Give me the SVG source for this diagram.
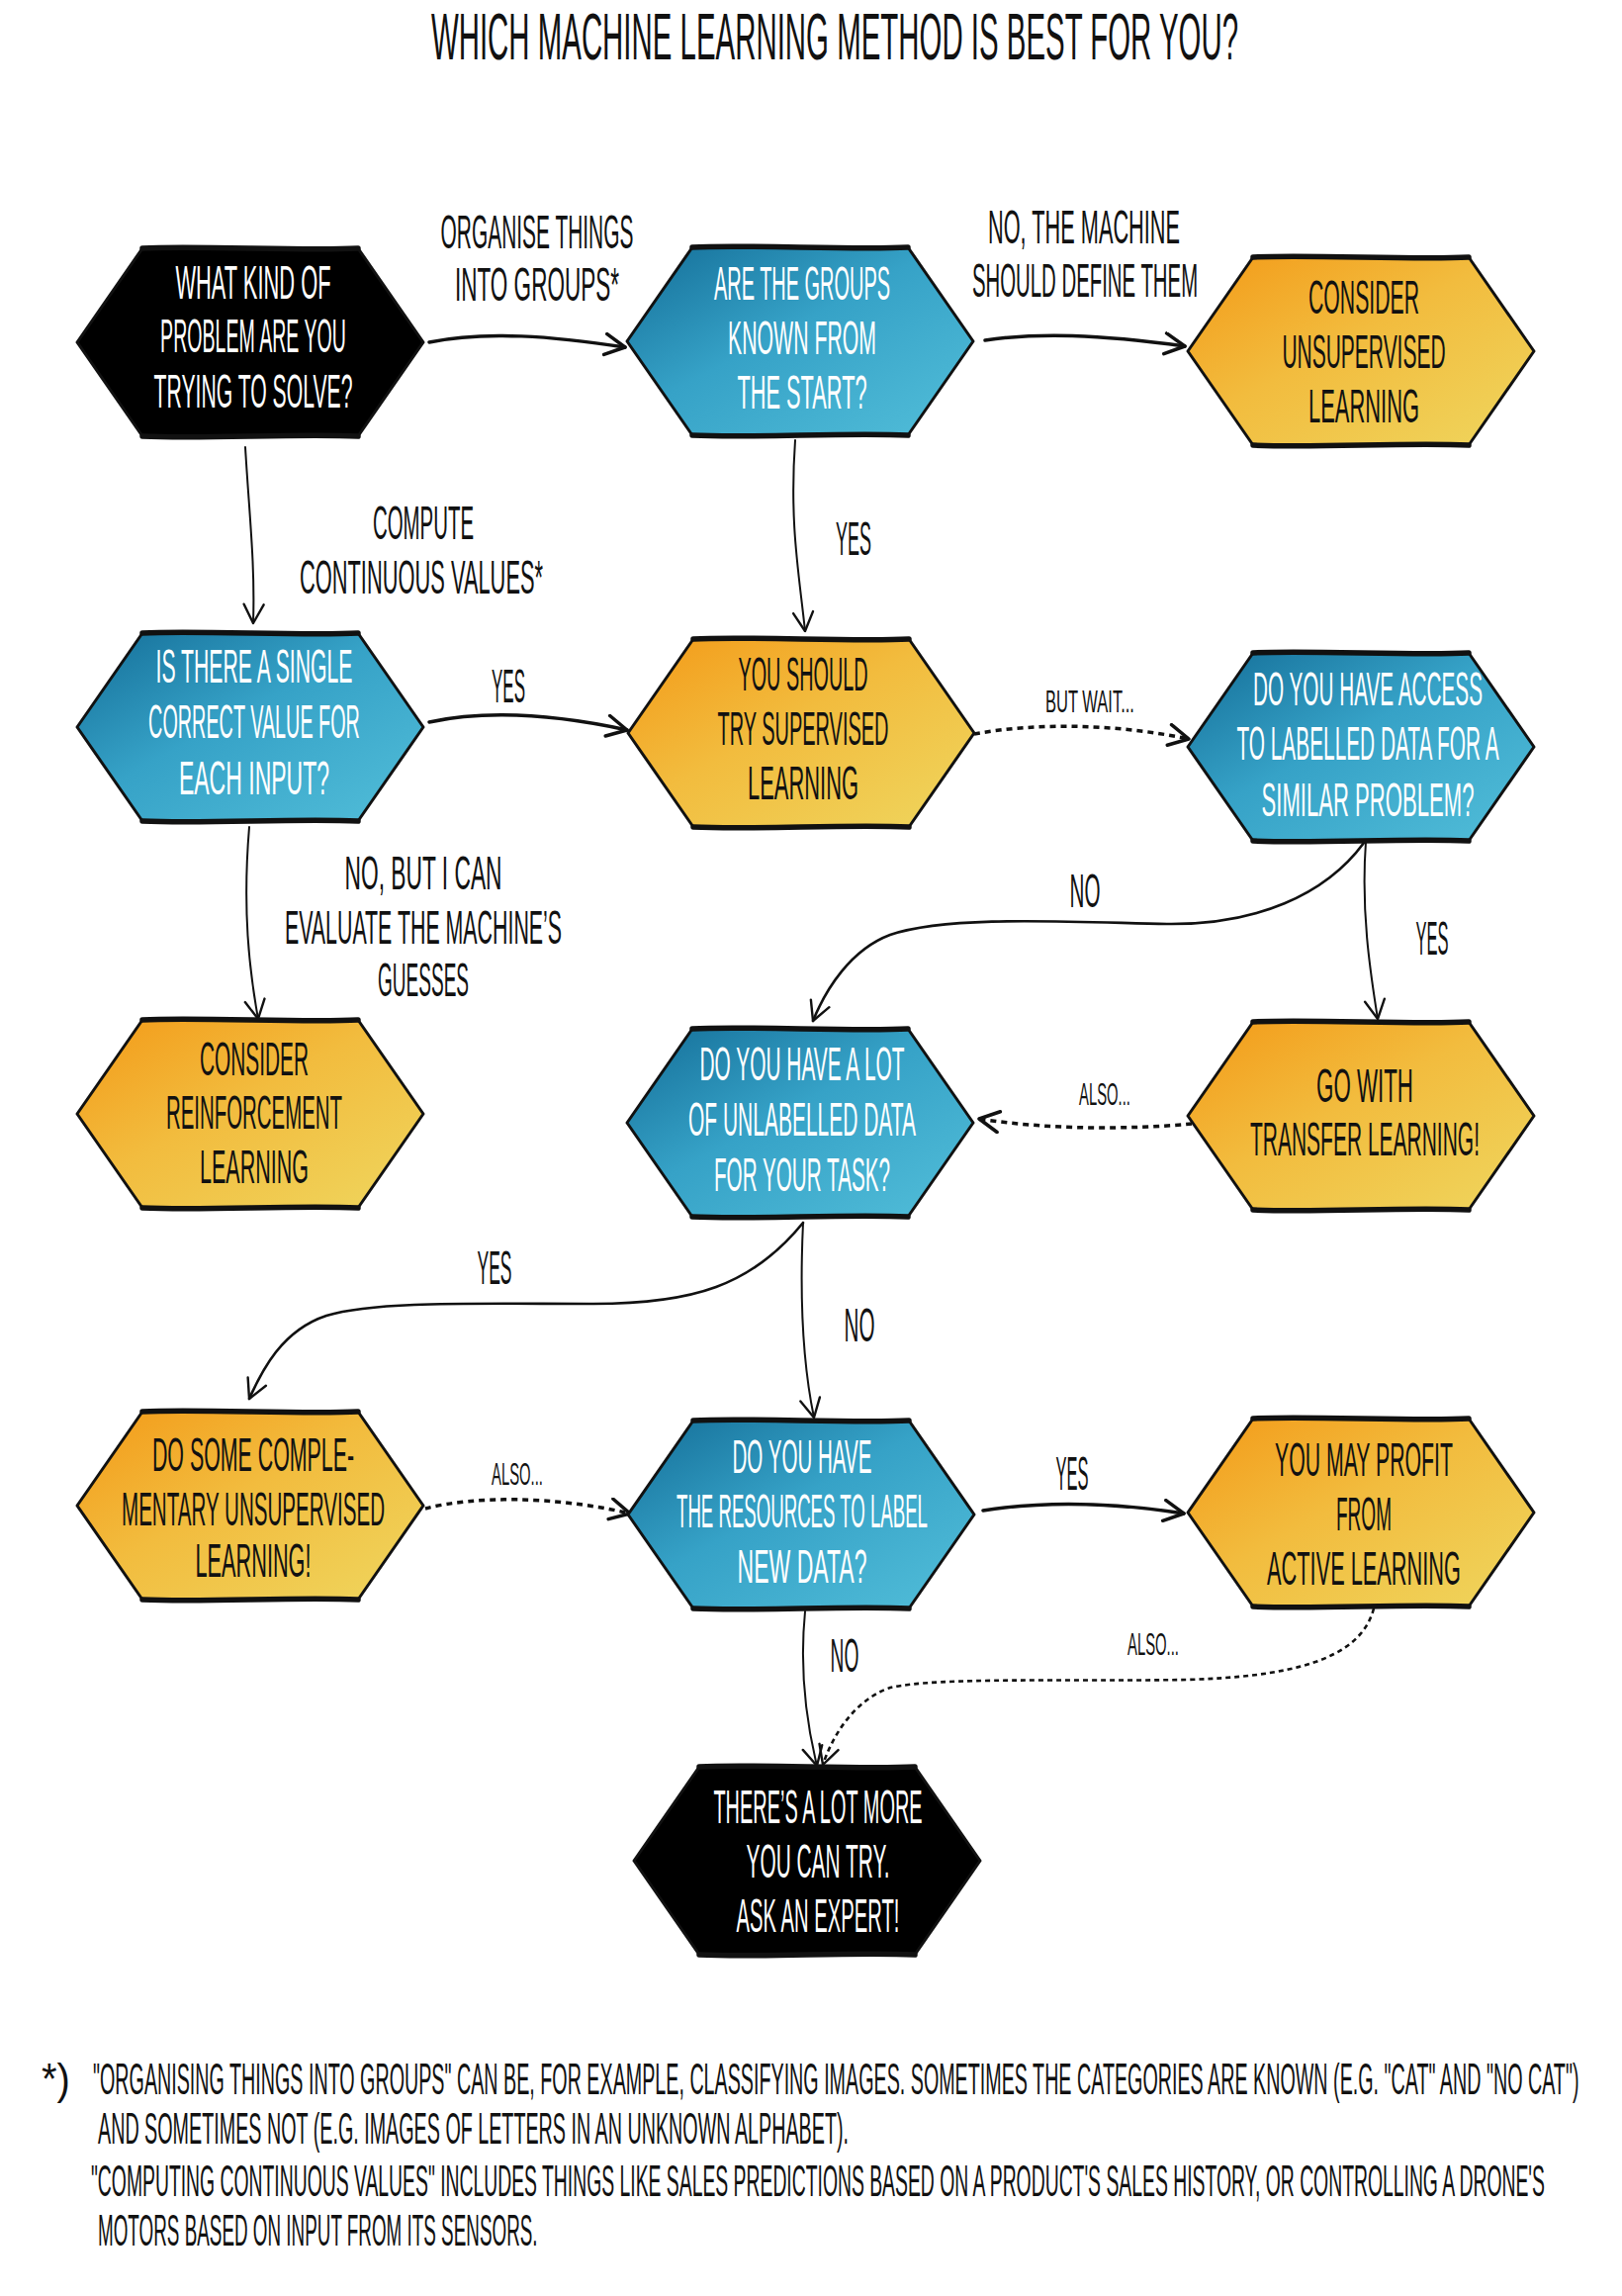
<svg xmlns="http://www.w3.org/2000/svg" xmlns:xlink="http://www.w3.org/1999/xlink" width="1640" height="2321" viewBox="0 0 1640 2321">
<defs>
<style>
.t{font-family:'Liberation Sans','DejaVu Sans',sans-serif;text-transform:uppercase;text-anchor:middle;fill:#111}
.n{font-size:48px}
.w{fill:#fff}
.s{font-size:32px}
.f{font-size:44px;text-anchor:start}
.hex polygon{stroke:#111;stroke-width:3;stroke-linejoin:round}
.hex path{fill:none;stroke:#111;stroke-width:5.5;stroke-linecap:round}
.c{fill:none;stroke:#111;stroke-linecap:round}
.thick{stroke-width:3.5;marker-end:url(#ah)}
.mid{stroke-width:2.6;marker-end:url(#ahThin)}
.thin{stroke-width:2;marker-end:url(#ahThin)}
.dot{stroke-width:3.5;stroke-dasharray:6 5;stroke-linecap:butt;marker-end:url(#ah)}
.dotf{stroke-width:2.6;stroke-dasharray:5 4;stroke-linecap:butt;marker-end:url(#ahThin)}
</style>
<linearGradient id="gBlue" x1="0" y1="0" x2="1" y2="1">
<stop offset="0" stop-color="#146e98"/>
<stop offset="0.45" stop-color="#36a2c7"/>
<stop offset="1" stop-color="#52bed9"/>
</linearGradient>
<linearGradient id="gOrange" x1="0" y1="0" x2="1" y2="1">
<stop offset="0" stop-color="#f39a18"/>
<stop offset="0.45" stop-color="#f2bc3e"/>
<stop offset="1" stop-color="#efd65e"/>
</linearGradient>
<g id="hex" class="hex">
<polygon points="0,95 66,0 284,0 350,95 284,190 66,190"/>
<path d="M66 0 C120 -3 230 3 284 0"/>
<path d="M66 190 C130 193 220 187 284 190"/>
</g>
<marker id="ah" markerUnits="userSpaceOnUse" viewBox="0 0 30 30" markerWidth="30" markerHeight="30" refX="23" refY="12" orient="auto">
<path d="M3,1.5 L23,12 L3,22.5" fill="none" stroke="#111" stroke-width="3.5" stroke-dasharray="none" stroke-linecap="round" stroke-linejoin="round"/>
</marker>
<marker id="ahThin" markerUnits="userSpaceOnUse" viewBox="0 0 30 30" markerWidth="30" markerHeight="30" refX="23" refY="12" orient="auto">
<path d="M4,2 L23,12 L4,22" fill="none" stroke="#111" stroke-width="2.4" stroke-dasharray="none" stroke-linecap="round" stroke-linejoin="round"/>
</marker>
</defs>
<rect width="1640" height="2321" fill="#fff"/>

<text id="title" class="t" font-size="66" transform="translate(844 60) scale(0.447 1)" textLength="1826" lengthAdjust="spacingAndGlyphs">Which Machine Learning Method is Best For you?</text>

<g id="connectors">
<path id="e1" class="c thick" d="M434 346 C490 334 560 340 632 351"/>
<path id="e2" class="c thick" d="M996 344 C1050 336 1110 338 1198 350"/>
<path id="e3" class="c thin" d="M248 452 C252 520 258 570 256 630"/>
<path id="e4" class="c thin" d="M804 445 C798 530 808 580 814 638"/>
<path id="e5" class="c thick" d="M434 730 C490 718 560 722 634 738"/>
<path id="e6" class="c dot" d="M985 742 C1050 730 1130 732 1202 747"/>
<path id="e7" class="c thin" d="M252 836 C245 920 252 980 261 1030"/>
<path id="e8" class="c mid" d="M1379 852 C1340 905 1270 935 1180 934 C1080 932 960 925 900 945 C860 960 835 1000 822 1032"/>
<path id="e9" class="c thin" d="M1381 851 C1376 920 1385 980 1393 1030"/>
<path id="e10" class="c dot" d="M1205 1136 C1140 1142 1060 1142 990 1131"/>
<path id="e11" class="c mid" d="M812 1236 C760 1300 700 1318 600 1318 C480 1318 380 1315 330 1330 C285 1345 265 1385 252 1414"/>
<path id="e12" class="c thin" d="M812 1236 C808 1320 812 1380 823 1433"/>
<path id="e13" class="c dot" d="M430 1525 C480 1512 560 1512 637 1530"/>
<path id="e14" class="c thick" d="M994 1527 C1050 1518 1120 1518 1197 1530"/>
<path id="e15" class="c thin" d="M814 1629 C808 1690 815 1740 826 1785"/>
<path id="e16" class="c dotf" d="M1389 1626 C1375 1680 1300 1695 1200 1698 C1080 1700 950 1695 900 1706 C860 1720 840 1760 832 1784"/>
</g>

<g id="edge-labels">
<text class="t n" transform="translate(543 251) scale(0.445 1)" textLength="438" lengthAdjust="spacingAndGlyphs">Organise Things</text>
<text class="t n" transform="translate(543 304) scale(0.483 1)" textLength="344" lengthAdjust="spacingAndGlyphs">into groups*</text>
<text class="t n" transform="translate(1096 246) scale(0.464 1)" textLength="418" lengthAdjust="spacingAndGlyphs">No, the machine</text>
<text class="t n" transform="translate(1097 300) scale(0.425 1)" textLength="537" lengthAdjust="spacingAndGlyphs">should define them</text>
<text class="t n" transform="translate(428 545) scale(0.44 1)" textLength="232" lengthAdjust="spacingAndGlyphs">Compute</text>
<text class="t n" transform="translate(426 600) scale(0.454 1)" textLength="542" lengthAdjust="spacingAndGlyphs">continuous Values*</text>
<text class="t n" transform="translate(863 561) scale(0.375 1)" textLength="96" lengthAdjust="spacingAndGlyphs">Yes</text>
<text class="t n" transform="translate(514 710) scale(0.354 1)" textLength="96" lengthAdjust="spacingAndGlyphs">Yes</text>
<text class="t s" transform="translate(1102 720) scale(0.508 1)" textLength="177" lengthAdjust="spacingAndGlyphs">but wait...</text>
<text class="t n" transform="translate(428 899) scale(0.479 1)" textLength="332" lengthAdjust="spacingAndGlyphs">No, but I can</text>
<text class="t n" transform="translate(428 954) scale(0.433 1)" textLength="647" lengthAdjust="spacingAndGlyphs">evaluate The Machine’s</text>
<text class="t n" transform="translate(428 1007) scale(0.397 1)" textLength="232" lengthAdjust="spacingAndGlyphs">guesses</text>
<text class="t n" transform="translate(1097 917) scale(0.43 1)" textLength="72" lengthAdjust="spacingAndGlyphs">No</text>
<text class="t n" transform="translate(1448 965) scale(0.344 1)" textLength="96" lengthAdjust="spacingAndGlyphs">Yes</text>
<text class="t s" transform="translate(1117 1117) scale(0.452 1)" textLength="115" lengthAdjust="spacingAndGlyphs">also...</text>
<text class="t n" transform="translate(500 1298) scale(0.365 1)" textLength="96" lengthAdjust="spacingAndGlyphs">Yes</text>
<text class="t n" transform="translate(869 1356) scale(0.43 1)" textLength="72" lengthAdjust="spacingAndGlyphs">No</text>
<text class="t s" transform="translate(523 1501) scale(0.452 1)" textLength="115" lengthAdjust="spacingAndGlyphs">also...</text>
<text class="t n" transform="translate(1084 1506) scale(0.344 1)" textLength="96" lengthAdjust="spacingAndGlyphs">Yes</text>
<text class="t n" transform="translate(854 1690) scale(0.4 1)" textLength="72" lengthAdjust="spacingAndGlyphs">No</text>
<text class="t s" transform="translate(1166 1673) scale(0.452 1)" textLength="115" lengthAdjust="spacingAndGlyphs">also...</text>
</g>

<g id="n1">
<use xlink:href="#hex" href="#hex" x="78" y="251" fill="#000"/>
<text class="t n w" transform="translate(256 302) scale(0.449 1)" textLength="350" lengthAdjust="spacingAndGlyphs">What kind of</text>
<text class="t n w" transform="translate(256 356) scale(0.411 1)" textLength="457" lengthAdjust="spacingAndGlyphs">problem are you</text>
<text class="t n w" transform="translate(256 412) scale(0.432 1)" textLength="465" lengthAdjust="spacingAndGlyphs">trying to solve?</text>
</g>
<g id="n2">
<use xlink:href="#hex" href="#hex" x="634" y="250" fill="url(#gBlue)"/>
<text class="t n w" transform="translate(811 303) scale(0.42 1)" textLength="424" lengthAdjust="spacingAndGlyphs">Are the groups</text>
<text class="t n w" transform="translate(811 358) scale(0.463 1)" textLength="324" lengthAdjust="spacingAndGlyphs">known from</text>
<text class="t n w" transform="translate(811 413) scale(0.43 1)" textLength="305" lengthAdjust="spacingAndGlyphs">the start?</text>
</g>
<g id="n3">
<use xlink:href="#hex" href="#hex" x="1201" y="260" fill="url(#gOrange)"/>
<text class="t n" transform="translate(1379 317) scale(0.457 1)" textLength="245" lengthAdjust="spacingAndGlyphs">Consider</text>
<text class="t n" transform="translate(1379 372) scale(0.437 1)" textLength="378" lengthAdjust="spacingAndGlyphs">Unsupervised</text>
<text class="t n" transform="translate(1379 427) scale(0.457 1)" textLength="245" lengthAdjust="spacingAndGlyphs">Learning</text>
</g>
<g id="n4">
<use xlink:href="#hex" href="#hex" x="78" y="640" fill="url(#gBlue)"/>
<text class="t n w" transform="translate(257 690) scale(0.428 1)" textLength="465" lengthAdjust="spacingAndGlyphs">Is there a single</text>
<text class="t n w" transform="translate(257 746) scale(0.408 1)" textLength="524" lengthAdjust="spacingAndGlyphs">correct value for</text>
<text class="t n w" transform="translate(257 803) scale(0.477 1)" textLength="319" lengthAdjust="spacingAndGlyphs">each input?</text>
</g>
<g id="n5">
<use xlink:href="#hex" href="#hex" x="635" y="646" fill="url(#gOrange)"/>
<text class="t n" transform="translate(812 698) scale(0.42 1)" textLength="312" lengthAdjust="spacingAndGlyphs">You should</text>
<text class="t n" transform="translate(812 753) scale(0.408 1)" textLength="424" lengthAdjust="spacingAndGlyphs">Try Supervised</text>
<text class="t n" transform="translate(812 808) scale(0.457 1)" textLength="245" lengthAdjust="spacingAndGlyphs">Learning</text>
</g>
<g id="n6">
<use xlink:href="#hex" href="#hex" x="1201" y="660" fill="url(#gBlue)"/>
<text class="t n w" transform="translate(1383 713) scale(0.432 1)" textLength="537" lengthAdjust="spacingAndGlyphs">Do you have access</text>
<text class="t n w" transform="translate(1383 768) scale(0.408 1)" textLength="650" lengthAdjust="spacingAndGlyphs">to Labelled data for a</text>
<text class="t n w" transform="translate(1383 825) scale(0.462 1)" textLength="465" lengthAdjust="spacingAndGlyphs">similar problem?</text>
</g>
<g id="n7">
<use xlink:href="#hex" href="#hex" x="78" y="1031" fill="url(#gOrange)"/>
<text class="t n" transform="translate(257 1087) scale(0.449 1)" textLength="245" lengthAdjust="spacingAndGlyphs">Consider</text>
<text class="t n" transform="translate(257 1141) scale(0.433 1)" textLength="411" lengthAdjust="spacingAndGlyphs">Reinforcement</text>
<text class="t n" transform="translate(257 1196) scale(0.449 1)" textLength="245" lengthAdjust="spacingAndGlyphs">Learning</text>
</g>
<g id="n8">
<use xlink:href="#hex" href="#hex" x="634" y="1040" fill="url(#gBlue)"/>
<text class="t n w" transform="translate(811 1092) scale(0.428 1)" textLength="484" lengthAdjust="spacingAndGlyphs">Do You have A Lot</text>
<text class="t n w" transform="translate(811 1148) scale(0.439 1)" textLength="524" lengthAdjust="spacingAndGlyphs">Of Unlabelled Data</text>
<text class="t n w" transform="translate(811 1204) scale(0.426 1)" textLength="418" lengthAdjust="spacingAndGlyphs">For your Task?</text>
</g>
<g id="n9">
<use xlink:href="#hex" href="#hex" x="1201" y="1033" fill="url(#gOrange)"/>
<text class="t n" transform="translate(1380 1114) scale(0.48 1)" textLength="204" lengthAdjust="spacingAndGlyphs">Go With</text>
<text class="t n" transform="translate(1380 1168) scale(0.432 1)" textLength="537" lengthAdjust="spacingAndGlyphs">transfer learning!</text>
</g>
<g id="n10">
<use xlink:href="#hex" href="#hex" x="78" y="1427" fill="url(#gOrange)"/>
<text class="t n" transform="translate(256 1487) scale(0.464 1)" textLength="440" lengthAdjust="spacingAndGlyphs">Do SOME Comple-</text>
<text class="t n" transform="translate(256 1542) scale(0.427 1)" textLength="623" lengthAdjust="spacingAndGlyphs">mentary unsupervised</text>
<text class="t n" transform="translate(256 1594) scale(0.452 1)" textLength="259" lengthAdjust="spacingAndGlyphs">Learning!</text>
</g>
<g id="n11">
<use xlink:href="#hex" href="#hex" x="635" y="1436" fill="url(#gBlue)"/>
<text class="t n w" transform="translate(811 1489) scale(0.434 1)" textLength="325" lengthAdjust="spacingAndGlyphs">Do you have</text>
<text class="t n w" transform="translate(811 1544) scale(0.379 1)" textLength="670" lengthAdjust="spacingAndGlyphs">The resources To Label</text>
<text class="t n w" transform="translate(811 1600) scale(0.461 1)" textLength="284" lengthAdjust="spacingAndGlyphs">New Data?</text>
</g>
<g id="n12">
<use xlink:href="#hex" href="#hex" x="1201" y="1434" fill="url(#gOrange)"/>
<text class="t n" transform="translate(1379 1492) scale(0.444 1)" textLength="405" lengthAdjust="spacingAndGlyphs">You may profit</text>
<text class="t n" transform="translate(1379 1547) scale(0.403 1)" textLength="139" lengthAdjust="spacingAndGlyphs">from</text>
<text class="t n" transform="translate(1379 1602) scale(0.447 1)" textLength="438" lengthAdjust="spacingAndGlyphs">Active Learning</text>
</g>
<g id="n13">
<use xlink:href="#hex" href="#hex" x="641" y="1786" fill="#000"/>
<text class="t n w" transform="translate(827 1843) scale(0.41 1)" textLength="515" lengthAdjust="spacingAndGlyphs">There’s A loT more</text>
<text class="t n w" transform="translate(827 1898) scale(0.429 1)" textLength="338" lengthAdjust="spacingAndGlyphs">You can Try.</text>
<text class="t n w" transform="translate(827 1953) scale(0.407 1)" textLength="405" lengthAdjust="spacingAndGlyphs">Ask an Expert!</text>
</g>

<g id="footnote">
<text class="t f" transform="translate(42 2117) scale(0.9 1)" textLength="32" lengthAdjust="spacingAndGlyphs">*)</text>
<text class="t f" transform="translate(94 2117) scale(0.452 1)" textLength="3324" lengthAdjust="spacingAndGlyphs">"Organising things into groups" can be, for example, classifying images. Sometimes the categories are known (e.g. "cat" and "no cat")</text>
<text class="t f" transform="translate(99 2167) scale(0.451 1)" textLength="1683" lengthAdjust="spacingAndGlyphs">and sometimes not (e.g. images of letters in an unknown alphabet).</text>
<text class="t f" transform="translate(92 2220) scale(0.438 1)" textLength="3356" lengthAdjust="spacingAndGlyphs">"Computing continuous values" includes things like sales predictions based on a product's sales history, or controlling a drone's</text>
<text class="t f" transform="translate(99 2270) scale(0.435 1)" textLength="1022" lengthAdjust="spacingAndGlyphs">motors based on input from its sensors.</text>
</g>
</svg>
